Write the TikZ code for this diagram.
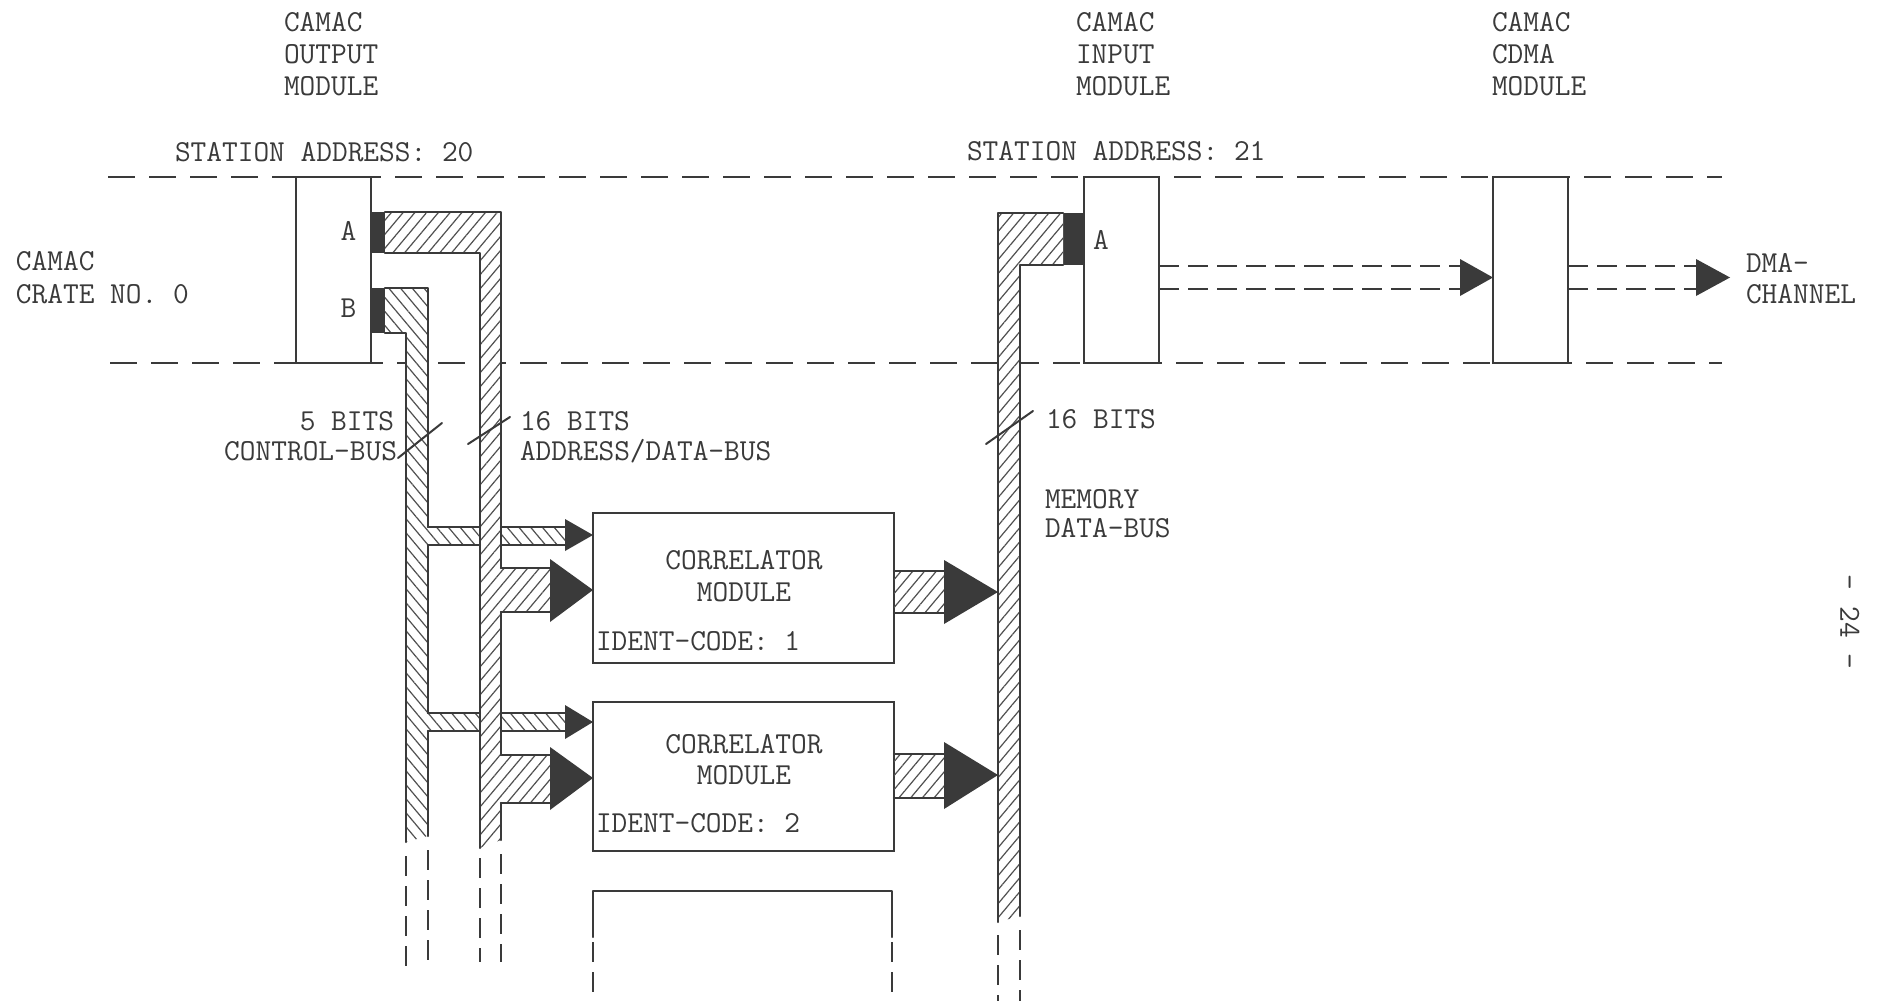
\documentclass[tikz,border=0pt]{standalone}
\usepackage{fontspec}
\usetikzlibrary{patterns.meta}
\definecolor{ink}{HTML}{3A3A3A}
\definecolor{hatch}{HTML}{505050}
\begin{document}
\begin{tikzpicture}[x=1pt,y=-1pt,
  every node/.style={inner sep=0pt, outer sep=0pt},
  txt/.style={font=\ttfamily\fontsize{30.5}{32}\selectfont, text=ink},
  box/.style={draw=ink, line width=2.2pt, fill=white, rectangle},
  edge/.style={draw=ink, line width=2.2pt, line cap=round, line join=round},
  hne/.style={pattern={Lines[angle=50,distance=9pt,line width=1.2pt]}, pattern color=hatch},
  hnw/.style={pattern={Lines[angle=-50,distance=9pt,line width=1.2pt]}, pattern color=hatch},
  crate/.style={draw=ink, line width=2pt, dash pattern=on 27pt off 14pt},
  dline/.style={draw=ink, line width=2pt, dash pattern=on 20pt off 9pt},
  cont/.style={draw=ink, line width=2pt, dash pattern=on 20pt off 10pt},
]
\fill[white] (0,0) rectangle (1881,1001);
\useasboundingbox (0,0) rectangle (1881,1001);

% crate boundary
\draw[crate] (108,177) -- (1722,177);
\draw[crate] (110,363) -- (1722,363);

% modules
\node[box, minimum width=75pt, minimum height=186pt] (out) at (333.5,270) {};
\node[box, minimum width=75pt, minimum height=186pt] (in) at (1121.5,270) {};
\node[box, minimum width=75pt, minimum height=186pt] (cdma) at (1530.5,270) {};
\node[box, minimum width=301pt, minimum height=150pt] (m1) at (743.5,588) {};
\node[box, minimum width=301pt, minimum height=149pt] (m2) at (743.5,776.5) {};
\draw[edge] (593,937) -- (593,891) -- (892,891) -- (892,937);
\draw[cont] (593,942) -- (593,1001);
\draw[cont] (892,942) -- (892,1001);

% ports
\fill[ink] (out.east |- 0,212) rectangle (385,253);
\fill[ink] (out.east |- 0,288) rectangle (385,333);
\fill[ink] (1063,213) rectangle (in.west |- 0,265);

% control bus (B)
\fill[white] (385,288) -- (428,288) -- (428,836) -- (406,842) -- (406,333) -- (385,333) -- cycle;
\fill[hnw] (385,288) -- (428,288) -- (428,836) -- (406,842) -- (406,333) -- (385,333) -- cycle;
\fill[hnw] (428,527) rectangle (565,545);
\fill[hnw] (428,713) rectangle (565,731);

% address bus (A)
\fill[white] (385,212) -- (501,212) -- (501,840) -- (480,848) -- (480,253) -- (385,253) -- cycle;
\fill[hne] (385,212) -- (501,212) -- (501,840) -- (480,848) -- (480,253) -- (385,253) -- cycle;
\fill[hne] (501,568) rectangle (550,612);
\fill[hne] (501,755) rectangle (550,803);

% memory data bus
\fill[white] (1063,213) -- (998,213) -- (998,922) -- (1020,916) -- (1020,265) -- (1063,265) -- cycle;
\fill[hne] (1063,213) -- (998,213) -- (998,922) -- (1020,916) -- (1020,265) -- (1063,265) -- cycle;
\fill[hne] (m1.east |- 0,571) rectangle (944,613);
\fill[hne] (m2.east |- 0,754) rectangle (944,798);

% outlines: control bus
\draw[edge] (385,288) -- (428,288) -- (428,527);
\draw[edge] (428,545) -- (428,713);
\draw[edge] (428,731) -- (428,836);
\draw[edge] (385,333) -- (406,333) -- (406,842);
\draw[edge] (428,527) -- (480,527) (501,527) -- (565,527);
\draw[edge] (428,545) -- (480,545) (501,545) -- (565,545);
\draw[edge] (428,713) -- (480,713) (501,713) -- (565,713);
\draw[edge] (428,731) -- (480,731) (501,731) -- (565,731);
% outlines: address bus
\draw[edge] (385,212) -- (501,212) -- (501,568);
\draw[edge] (501,612) -- (501,755);
\draw[edge] (501,803) -- (501,840);
\draw[edge] (385,253) -- (480,253) -- (480,848);
\draw[edge] (501,568) -- (550,568) (501,612) -- (550,612);
\draw[edge] (501,755) -- (550,755) (501,803) -- (550,803);
% outlines: memory bus
\draw[edge] (1063,213) -- (998,213) -- (998,922);
\draw[edge] (1063,265) -- (1020,265) -- (1020,916);
\draw[edge] (m1.east |- 0,571) -- (944,571) (m1.east |- 0,613) -- (944,613);
\draw[edge] (m2.east |- 0,754) -- (944,754) (m2.east |- 0,798) -- (944,798);

% arrowheads
\fill[ink] (565,519) -- (m1.west |- 0,535) -- (565,551) -- cycle;
\fill[ink] (550,559) -- (m1.west |- 0,590) -- (550,622) -- cycle;
\fill[ink] (565,705) -- (m2.west |- 0,722) -- (565,739) -- cycle;
\fill[ink] (550,747) -- (m2.west |- 0,778) -- (550,810) -- cycle;
\fill[ink] (944,560) -- (998,592) -- (944,624) -- cycle;
\fill[ink] (944,742) -- (998,775) -- (944,809) -- cycle;

% bus continuations
\draw[cont] (406,856) -- (406,968);
\draw[cont] (428,850) -- (428,962);
\draw[cont] (480,858) -- (480,962);
\draw[cont] (501,854) -- (501,962);
\draw[cont] (998,935) -- (998,1001);
\draw[cont] (1020,930) -- (1020,1001);

% width markers
\draw[edge, line width=2pt] (398,458) -- (442,423);
\draw[edge, line width=2pt] (468,444) -- (510,417);
\draw[edge, line width=2pt] (986,444) -- (1033,411);

% DMA transfer
\draw[dline] (in.east |- 0,266) -- (1462,266);
\draw[dline] (in.east |- 0,289) -- (1462,289);
\fill[ink] (1460,259) -- (cdma.west |- 0,277.5) -- (1460,296) -- cycle;
\draw[dline] (cdma.east |- 0,266) -- (1697,266);
\draw[dline] (cdma.east |- 0,289) -- (1697,289);
\coordinate (dma) at (1730,277.5);
\fill[ink] (1696,259) -- (dma) -- (1696,296) -- cycle;

% texts
\node[txt, anchor=base west] (o1) at (284,31) {CAMAC};
\node[txt, anchor=base west] (o2) at (284,63) {OUTPUT};
\node[txt, anchor=base west] (o3) at (284,95) {MODULE};
\node[txt, anchor=base west] (i1) at (1076,31) {CAMAC};
\node[txt, anchor=base west] (i2) at (1076,63) {INPUT};
\node[txt, anchor=base west] (i3) at (1076,95) {MODULE};
\node[txt, anchor=base west] (c1) at (1492,31) {CAMAC};
\node[txt, anchor=base west] (c2) at (1492,63) {CDMA};
\node[txt, anchor=base west] (c3) at (1492,95) {MODULE};
\node[txt, anchor=base west] (sa20) at (175,161) {STATION ADDRESS: 20};
\node[txt, anchor=base west] (sa21) at (967,160) {STATION ADDRESS: 21};
\node[txt, anchor=base west] (cr1) at (16,270) {CAMAC};
\node[txt, anchor=base west] (cr2) at (16,303) {CRATE NO. 0};
\node[txt, anchor=base] (pa) at (348.5,240) {A};
\node[txt, anchor=base] (pb) at (348.5,317) {B};
\node[txt, anchor=base] (pi) at (1101,249) {A};
\node[txt, anchor=base east] (b5) at (394,430) {5 BITS};
\node[txt, anchor=base east] (cb) at (397,460) {CONTROL-BUS};
\node[txt, anchor=base west] (b16a) at (520,430) {16 BITS};
\node[txt, anchor=base west] (adb) at (520,460) {ADDRESS/DATA-BUS};
\node[txt, anchor=base west] (b16m) at (1046,428) {16 BITS};
\node[txt, anchor=base west] (mem1) at (1045,508) {MEMORY};
\node[txt, anchor=base west] (mem2) at (1045,537) {DATA-BUS};
\node[txt, anchor=base] (m1a) at (744,569) {CORRELATOR};
\node[txt, anchor=base] (m1b) at (744,601) {MODULE};
\node[txt, anchor=base west] (m1c) at (596,650) {IDENT-CODE: 1};
\node[txt, anchor=base] (m2a) at (744,753) {CORRELATOR};
\node[txt, anchor=base] (m2b) at (744,784) {MODULE};
\node[txt, anchor=base west] (m2c) at (596,832) {IDENT-CODE: 2};
\node[txt, anchor=base west] (d1) at (1746,272) {DMA-};
\node[txt, anchor=base west] (d2) at (1746,303) {CHANNEL};
\node[txt, rotate=-90] (pg) at (1850,622) {- 24 -};
\end{tikzpicture}
\end{document}
